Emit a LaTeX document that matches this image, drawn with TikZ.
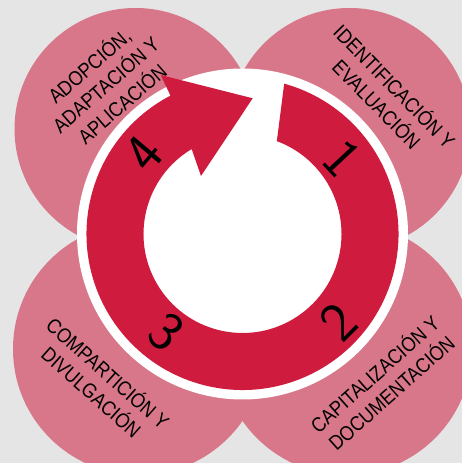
\documentclass[tikz,border=0pt]{standalone}
\usepackage{fontspec}
\setmainfont{Liberation Sans}
\newfontfamily\lblfont[FakeStretch=0.88]{Liberation Sans}
\usetikzlibrary{calc}
\definecolor{bg}{HTML}{E5E5E5}
\definecolor{pinkc}{HTML}{D77789}
\definecolor{redc}{HTML}{CF1B3E}
\begin{document}
\begin{tikzpicture}[x=1pt,y=1pt,
  lbl/.style={font=\lblfont\fontsize{20.5}{25}\selectfont, align=center, text=black, inner sep=0pt},
  num/.style={font=\sffamily\fontsize{56}{56}\selectfont, text=black, inner sep=0pt}]
\useasboundingbox (0,0) rectangle (462,463);
\fill[bg] (0,0) rectangle (462,463);
% four petals
\fill[pinkc] (135.5,334) circle[radius=121];
\fill[pinkc] (349.5,334) circle[radius=121];
\fill[pinkc] (139,114) circle[radius=126];
\fill[pinkc] (346,114) circle[radius=126];
% centre
\coordinate (C) at (242.5,229);
\fill[white] (C) circle[radius=165.5];
\fill[redc] ($(C)+(74.5:156)$) arc[start angle=74.5,end angle=-242.5,radius=156]
  -- (160.7,388) -- (252.7,364.7) -- (201,287)
  -- ($(C)+(120.9:99)$) arc[start angle=-239.1,end angle=69.7,radius=99] -- cycle;
% digits
\node[num, rotate=-47] (n1) at ($(C)+(37.4:125)$) {1};
\node[num, rotate=45] (n2) at ($(C)+(-42.7:130)$) {2};
\node[num, rotate=-40] (n3) at ($(C)+(-128:124)$) {3};
\node[num, rotate=50] (n4) at ($(C)+(140.6:127)$) {4};
% labels
\node[lbl, rotate=41] (l4) at (105,379) {ADOPCIÓN,\\ADAPTACIÓN Y\\APLICACIÓN};
\node[lbl, rotate=-45.5] (l1) at (386.4,368.5) {IDENTIFICACIÓN Y\\EVALUACIÓN};
\node[lbl, rotate=-41.5] (l3) at (100.4,81) {COMPARTICIÓN Y\\DIVULGACIÓN};
\node[lbl, rotate=41.6] (l2) at (382.3,80.3) {CAPITALIZACIÓN Y\\DOCUMENTACIÓN};
\end{tikzpicture}
\end{document}
